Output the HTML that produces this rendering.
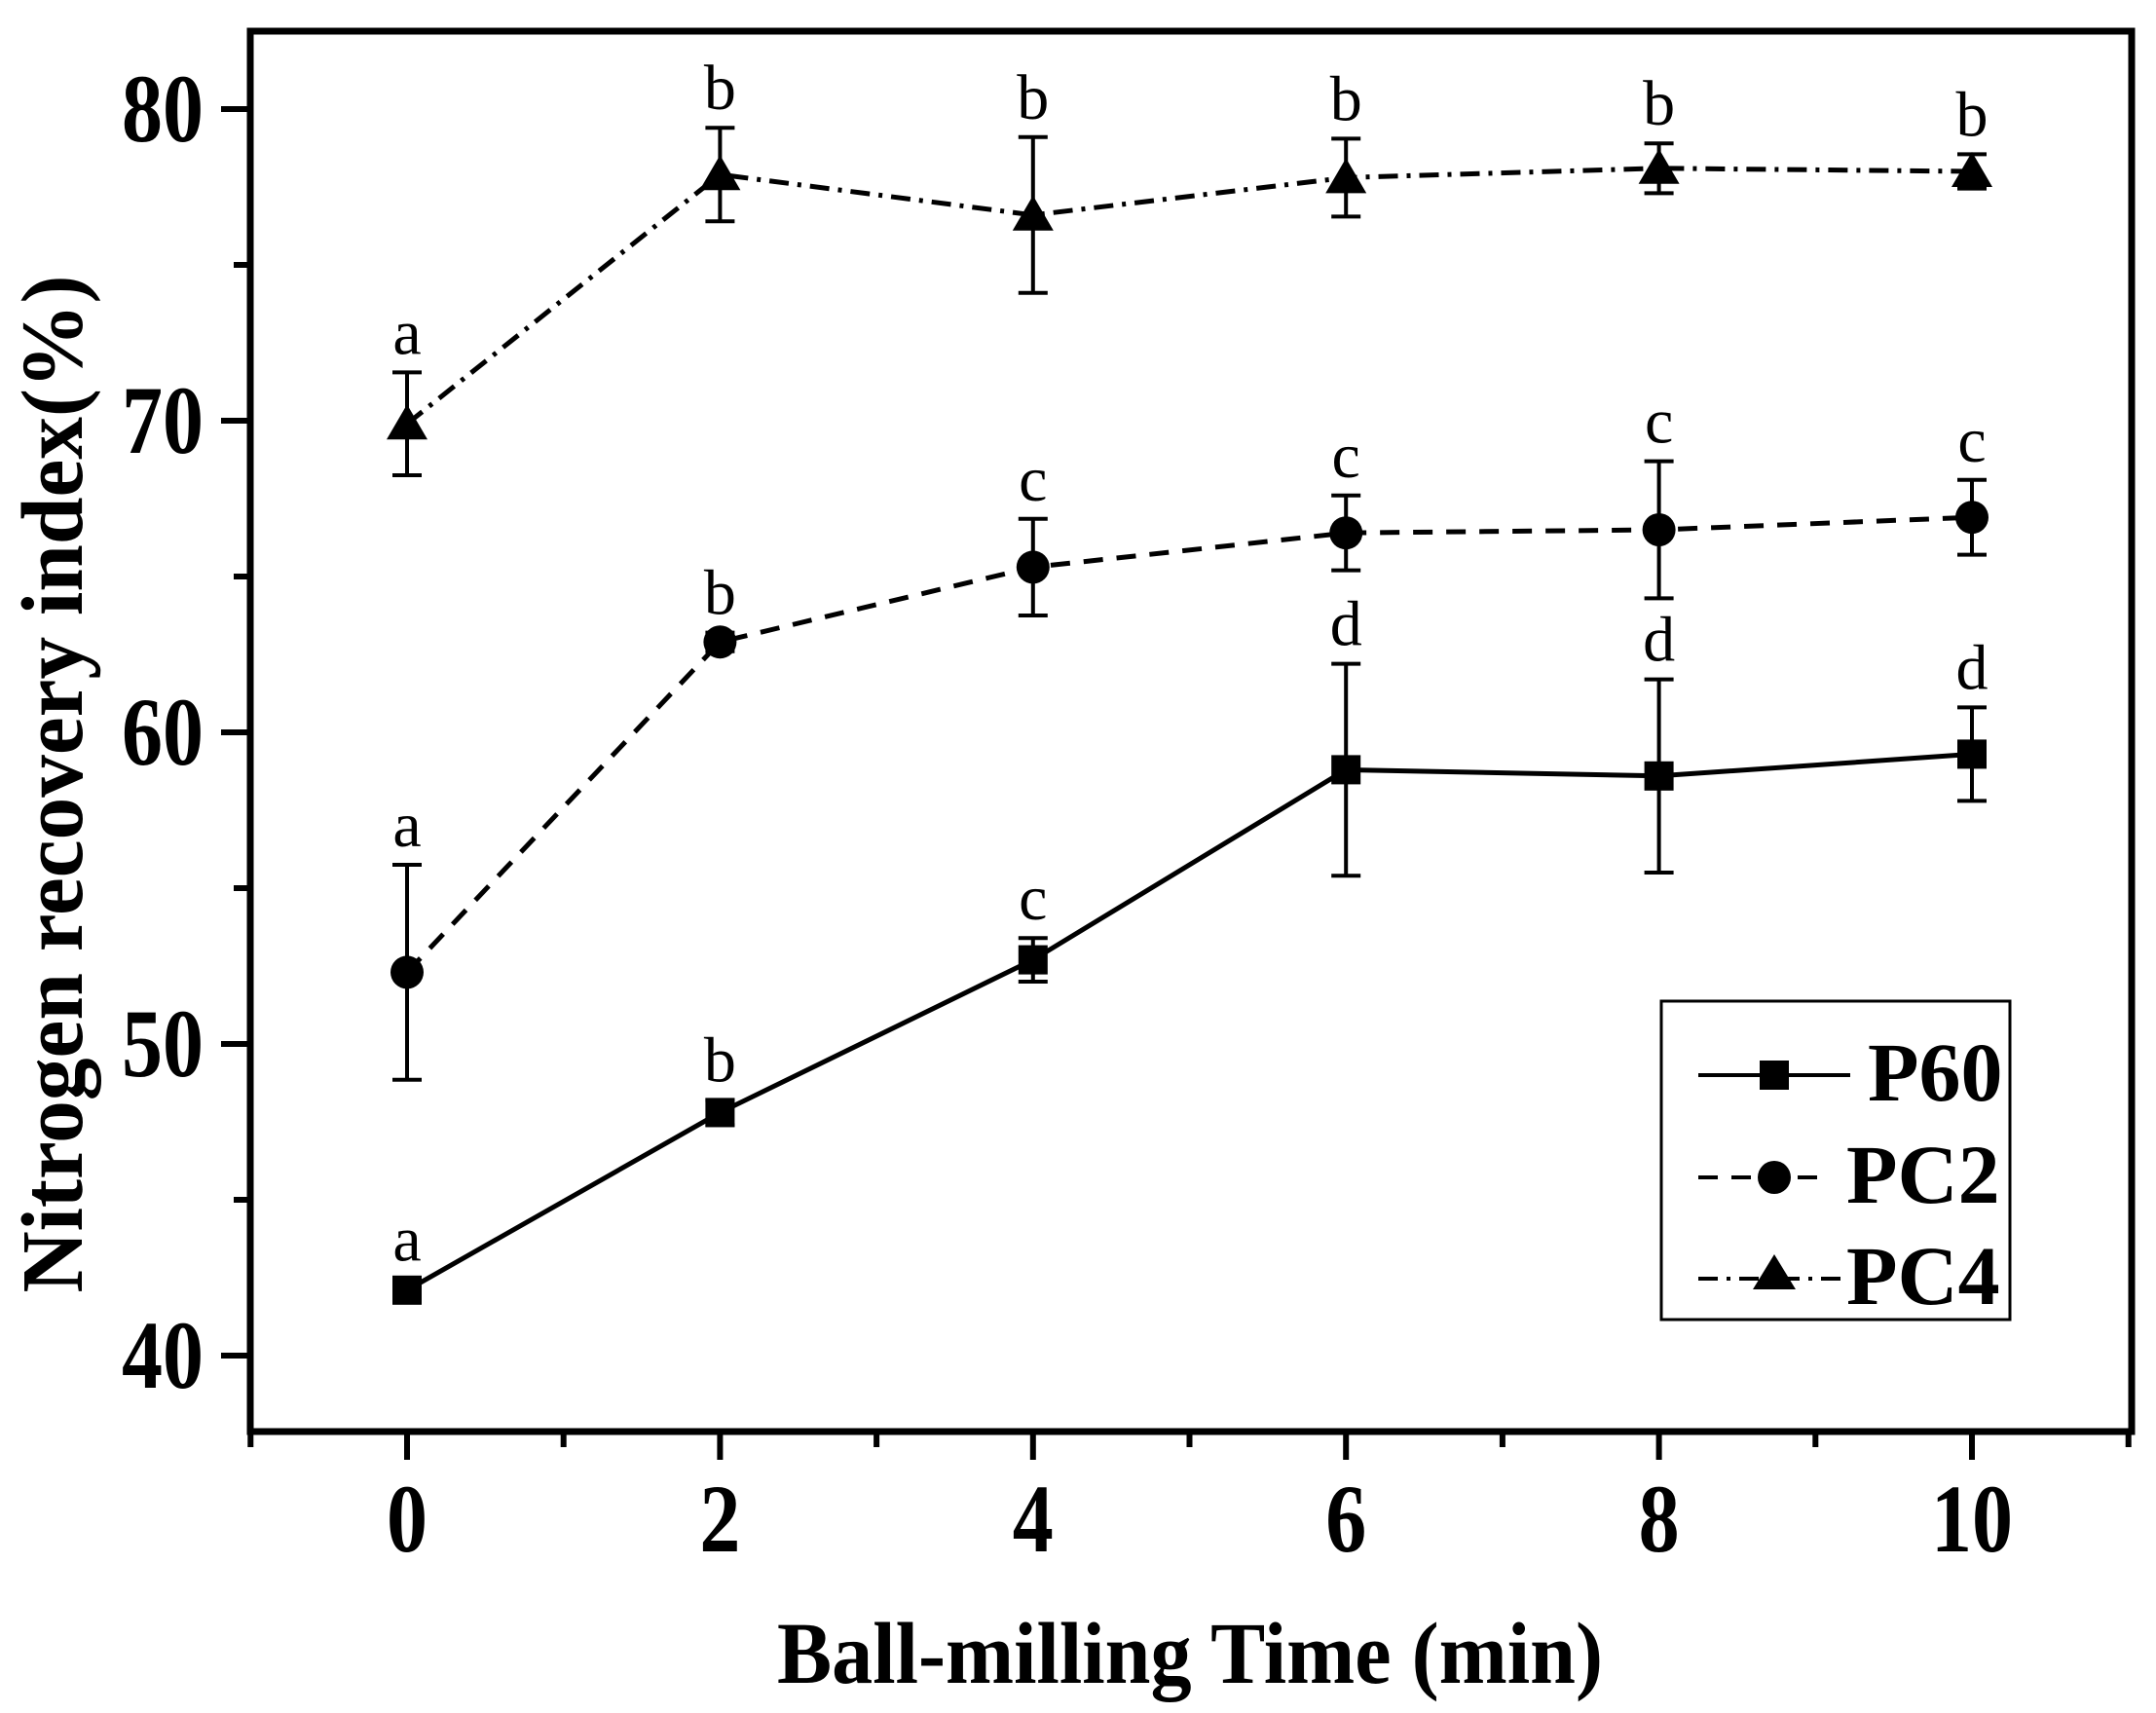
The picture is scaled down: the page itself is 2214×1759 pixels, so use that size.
<!DOCTYPE html>
<html><head><meta charset="utf-8"><style>
html,body{margin:0;padding:0;background:#fff;}
svg{display:block;}
</style></head><body>
<svg id="chart" width="2214" height="1759" viewBox="0 0 2214 1759" xmlns="http://www.w3.org/2000/svg" font-family="'Liberation Serif', serif">
<rect x="0" y="0" width="2214" height="1759" fill="#fff"/>
<g id="axes"></g>
<g id="series"></g>
<text x="1222" y="1728" text-anchor="middle" font-size="90" font-weight="bold" textLength="848" lengthAdjust="spacingAndGlyphs">Ball-milling Time (min)</text>
<text transform="translate(84,805) rotate(-90)" text-anchor="middle" font-size="90" font-weight="bold" textLength="1045" lengthAdjust="spacingAndGlyphs">Nitrogen recovery index(%)</text>
<g>
<rect x="1706" y="1028" width="358" height="327" fill="none" stroke="#000" stroke-width="3"/>
<g>
<line x1="1744" y1="1104" x2="1900" y2="1104" stroke="#000" stroke-width="4"/>
<rect x="1807" y="1089" width="30" height="30" fill="#000"/>
<text x="1918" y="1130" font-size="86" font-weight="bold">P60</text>
</g>
<g>
<line x1="1744" y1="1209" x2="1870" y2="1209" stroke="#000" stroke-width="4" stroke-dasharray="20 14"/>
<circle cx="1822" cy="1209" r="17" fill="#000"/>
<text x="1896" y="1235" font-size="86" font-weight="bold">PC2</text>
</g>
<g>
<line x1="1744" y1="1313" x2="1898" y2="1313" stroke="#000" stroke-width="4" stroke-dasharray="20 9 4 9"/>
<polygon points="1822,1288 1844,1324 1800,1324" fill="#000"/>
<text x="1896" y="1339" font-size="86" font-weight="bold">PC4</text>
</g>
</g>
</svg>
<script>
const categories = [0, 2, 4, 6, 8, 10];
const p60Values = [42.1, 47.8, 52.7, 58.8, 58.6, 59.3];
const p60Err = [0.35, 0.4, 0.7, 3.4, 3.1, 1.5];
const p60Letters = ['a', 'b', 'c', 'd', 'd', 'd'];
const pc2Values = [52.3, 62.9, 65.3, 66.4, 66.5, 66.9];
const pc2Err = [3.45, 0.3, 1.55, 1.2, 2.2, 1.2];
const pc2Letters = ['a', 'b', 'c', 'c', 'c', 'c'];
const pc4Values = [69.9, 77.9, 76.6, 77.8, 78.1, 78.0];
const pc4Err = [1.65, 1.5, 2.5, 1.25, 0.8, 0.55];
const pc4Letters = ['a', 'b', 'b', 'b', 'b', 'b'];
const yTicks = [40, 50, 60, 70, 80];
const yMinorTicks = [45, 55, 65, 75];
const xTicks = [0, 2, 4, 6, 8, 10];
const xMinorTicks = [-1, 1, 3, 5, 7, 9, 11];

const NS = 'http://www.w3.org/2000/svg';
const X0 = 418, XS = 160.7;
const Y40 = 1392, YS = 32;
const L = 257, R = 2189, T = 32, B = 1470;
function xs(v){ return X0 + v * XS; }
function ys(v){ return Y40 - (v - 40) * YS; }
function mk(tag, attrs, parent){
  const e = document.createElementNS(NS, tag);
  for (const k in attrs) e.setAttribute(k, attrs[k]);
  parent.appendChild(e);
  return e;
}
const axes = document.getElementById('axes');
const frame = mk('rect', {x:L, y:T, width:R-L, height:B-T, fill:'none', stroke:'#000', 'stroke-width':7}, axes);


yTicks.forEach(v => {
  const t = mk('line', {x1:L-30, x2:L, y1:ys(v), y2:ys(v), stroke:'#000', 'stroke-width':6}, axes);
  
  
  const s = String(v);
  const lb = mk('text', {x:209, y:ys(v)+33, 'text-anchor':'end', 'font-size':100, 'font-weight':'bold', textLength:s.length*42, lengthAdjust:'spacingAndGlyphs'}, axes);
  lb.textContent = s;
  
  
});
yMinorTicks.forEach(v => {
  const t = mk('line', {x1:L-17, x2:L, y1:ys(v), y2:ys(v), stroke:'#000', 'stroke-width':6}, axes);
  
  
});
xTicks.forEach(v => {
  const t = mk('line', {x1:xs(v), x2:xs(v), y1:B, y2:B+29, stroke:'#000', 'stroke-width':6}, axes);
  
  
  const s = String(v);
  const lb = mk('text', {x:xs(v), y:1593, 'text-anchor':'middle', 'font-size':100, 'font-weight':'bold', textLength:s.length*42, lengthAdjust:'spacingAndGlyphs'}, axes);
  lb.textContent = s;
  
  
});
xMinorTicks.forEach(v => {
  const t = mk('line', {x1:xs(v), x2:xs(v), y1:B, y2:B+16, stroke:'#000', 'stroke-width':6}, axes);
  
  
});

const sg = document.getElementById('series');
function drawSeries(name, vals, errs, letters, dash, marker){
  const g = mk('g', {}, sg);
  
  
  const pts = categories.map((c, i) => xs(c) + ',' + ys(vals[i])).join(' ');
  const pl = mk('polyline', {points:pts, fill:'none', stroke:'#000', 'stroke-width':5, 'stroke-dasharray':dash}, g);
  
  
  categories.forEach((c, i) => {
    const x = xs(c), y = ys(vals[i]);
    const top = ys(vals[i] + errs[i]), bot = ys(vals[i] - errs[i]);
    const eb = mk('path', {d:`M${x},${top}V${bot}M${x-15},${top}H${x+15}M${x-15},${bot}H${x+15}`, stroke:'#000', 'stroke-width':4, fill:'none'}, g);
    
    
    let m;
    if (marker === 'square') m = mk('rect', {x:x-15, y:y-15, width:30, height:30, fill:'#000'}, g);
    else if (marker === 'circle') m = mk('circle', {cx:x, cy:y, r:17, fill:'#000'}, g);
    else m = mk('polygon', {points:`${x},${y-20} ${x+21},${y+16} ${x-21},${y+16}`, fill:'#000'}, g);
    
    
    const t = mk('text', {x:x, y:top-19, 'text-anchor':'middle', 'font-size':66}, g);
    t.textContent = letters[i];
    
    
  });
}
drawSeries('p60', p60Values, p60Err, p60Letters, 'none', 'square');
drawSeries('pc2', pc2Values, pc2Err, pc2Letters, '20 14', 'circle');
drawSeries('pc4', pc4Values, pc4Err, pc4Letters, '20 9 4 9', 'triangle');
</script>
</body></html>
